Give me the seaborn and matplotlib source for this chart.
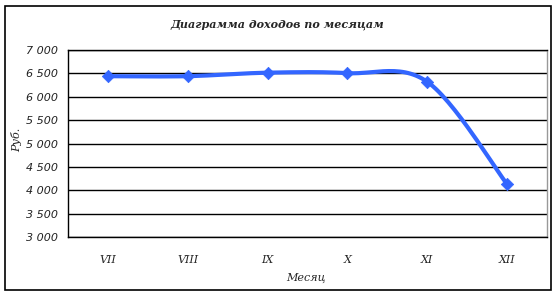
import numpy as np
import pandas as pd
import matplotlib
matplotlib.use("Agg")
import matplotlib.pyplot as plt
import seaborn as sns
from matplotlib.ticker import FuncFormatter, FixedLocator
from matplotlib.patches import Rectangle

months = ["VII", "VIII", "IX", "X", "XI", "XII"]
income = [6440, 6440, 6515, 6505, 6320, 4130]
y_ticks = [3000, 3500, 4000, 4500, 5000, 5500, 6000, 6500, 7000]

sns.set_theme(style="white")
plt.rcParams['font.family'] = ['DejaVu Sans']

fig = plt.figure(figsize=(5.56, 2.97), dpi=100)
ax = fig.add_axes([68/556, 1-237/297, (547-68)/556, (237-50)/297])

x = np.arange(len(months), dtype=float)
yv = np.array(income, dtype=float)

# Catmull-Rom smoothing (like Excel smoothed line)
def smooth(xp, yp, n=30):
    P = np.column_stack([xp, yp])
    P = np.vstack([P[0], P, P[-1]])
    out = []
    for i in range(1, len(P) - 2):
        p0, p1, p2, p3 = P[i-1], P[i], P[i+1], P[i+2]
        t = np.linspace(0, 1, n)[:, None]
        c = 0.5 * ((2*p1) + (-p0+p2)*t + (2*p0-5*p1+4*p2-p3)*t**2 + (-p0+3*p1-3*p2+p3)*t**3)
        out.append(c if i == len(P)-3 else c[:-1])
    return np.vstack(out)

s = smooth(x, yv)
df_s = pd.DataFrame({"x": s[:, 0], "y": s[:, 1]})
df_p = pd.DataFrame({"x": x, "y": yv})
color = "#3366FF"
sns.lineplot(data=df_s, x="x", y="y", ax=ax, color=color, lw=3.0, sort=False, estimator=None)
sns.scatterplot(data=df_p, x="x", y="y", ax=ax, color=color, marker="D", s=40, edgecolor=color, zorder=5)

ax.set_xlim(-0.5, len(months) - 0.5)
ax.set_ylim(3000, 7000)
ax.yaxis.set_major_locator(FixedLocator(y_ticks))
ax.yaxis.set_major_formatter(FuncFormatter(lambda v, p: f"{int(v):,}".replace(",", " ")))
ax.set_xticks(x)
ax.set_xticklabels(months)
ax.set_xticks(np.arange(-0.5, len(months)), minor=True)
ax.tick_params(axis="x", which="major", length=0, pad=13)
ax.tick_params(axis="x", which="minor", length=4, width=1, color="black", direction="out")
ax.tick_params(axis="y", length=4, width=1, color="black", direction="out", pad=3)
for lab in ax.get_xticklabels():
    lab.set_fontfamily("DejaVu Serif")
    lab.set_fontstyle("italic")
    lab.set_fontsize(8)
for lab in ax.get_yticklabels():
    lab.set_fontstyle("italic")
    lab.set_fontsize(8)
    lab.set_color("#222222")

ax.grid(False)
for v in y_ticks:
    ax.axhline(v, color="black", lw=1, zorder=1)
ax.spines["right"].set_color("#999999")
ax.spines["right"].set_linewidth(1)
for side in ["left", "bottom", "top"]:
    ax.spines[side].set_color("black")
    ax.spines[side].set_linewidth(1)

ax.set_xlabel("")
ax.set_ylabel("")
fig.text(17/556, 1-140/297, "Руб.", rotation=90, ha="center", va="center",
         fontfamily="DejaVu Serif", fontstyle="italic", fontsize=8)
fig.text(306/556, 1-278/297, "Месяц", ha="center", va="center",
         fontfamily="DejaVu Serif", fontstyle="italic", fontsize=8)
fig.text(277/556, 1-24/297, "Диаграмма доходов по месяцам", ha="center", va="center",
         fontfamily="DejaVu Serif", fontstyle="italic", fontweight="bold", fontsize=8)

fig.patches.append(Rectangle((5/556, 7/297), 546/556, 284/297, transform=fig.transFigure,
                             fill=False, edgecolor="black", lw=1.2))

fig.savefig("out.png", dpi=100)
